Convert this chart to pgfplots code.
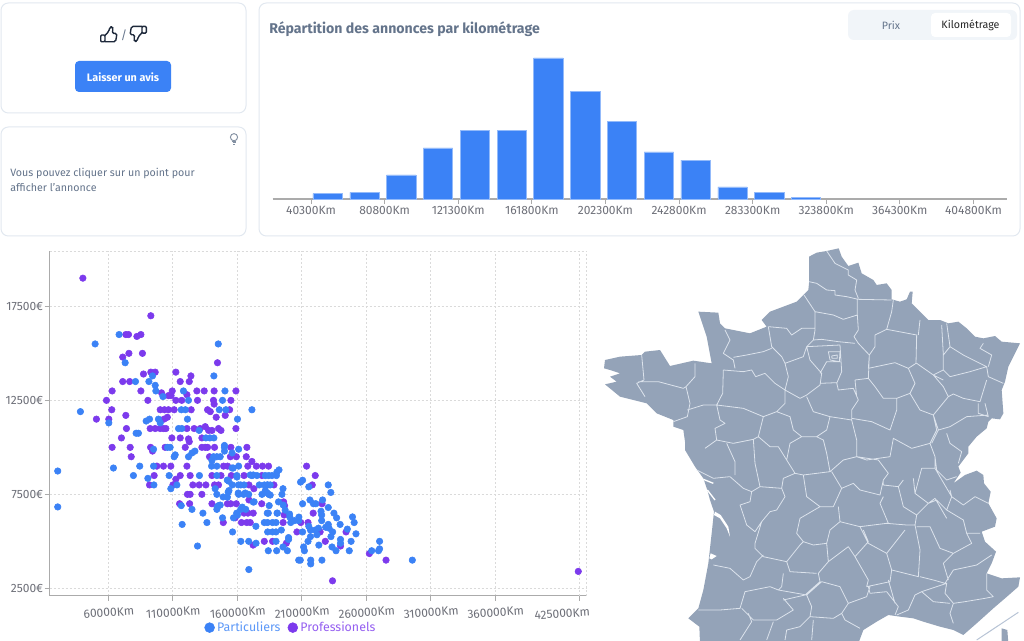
\documentclass[border=0pt]{standalone}
\usepackage{fontspec}
\setmainfont{Fira Sans}
\usepackage{pgfplots}
\usepackage{pgfplotstable}
\pgfplotsset{compat=1.18}
\definecolor{cblue}{HTML}{3B82F6}
\definecolor{cpurple}{HTML}{7C3AED}
\definecolor{slatefive}{HTML}{64748B}
\definecolor{slateborder}{HTML}{E2E8F0}
\definecolor{toggle}{HTML}{F1F5F9}
\definecolor{mapfill}{HTML}{94A3B8}
\definecolor{mapline}{HTML}{DCE3EC}
\definecolor{mapbox}{HTML}{B8C4D6}
\definecolor{ticktext}{HTML}{6E7079}
\definecolor{axisgray}{HTML}{ABABAB}
\definecolor{gridc}{HTML}{DADADA}
\definecolor{lblue}{HTML}{5C98F8}
\definecolor{lpurple}{HTML}{955FF1}
\definecolor{icon}{HTML}{1E293B}
\newcommand{\fs}[1]{\fontsize{#1}{#1}\selectfont}
\pgfplotstableread{
km eur
49400 4
69700 5
89900 18
110200 38
130400 51
150700 51
170900 105
191200 80
211400 58
231700 35
251900 29
272200 9
292400 5
312700 1
}\histdata
\pgfplotstableread{
km eur
40200 19000
92900 17000
73500 16000
75600 16000
82100 15900
85200 16000
75900 15000
71100 14800
86400 15000
144600 14500
87200 13900
92900 14000
96300 14000
112300 14000
115700 13500
124000 13800
122700 13500
71100 13500
76500 13500
62900 13000
85200 13000
101200 12900
109500 13000
128600 13000
134300 13000
142000 13000
158900 13000
106500 12750
108600 12750
120900 12800
58500 12500
90600 12500
112300 12500
116900 12500
129100 12500
141500 12500
155000 12500
62600 12000
100200 12000
103500 12000
106600 12000
111000 12000
124200 12000
136900 12000
139000 11900
142000 12300
154000 12000
50700 11500
60300 11500
73500 11700
103100 11500
105700 11600
143600 11600
150600 11700
74000 11000
92400 11000
96300 11000
100200 11000
102700 11000
104600 11000
120900 11000
126500 11000
131200 11000
135100 11100
137700 10900
140300 10900
145400 11000
147300 10900
158900 11000
70100 10500
109200 10500
115700 10500
122100 10450
132500 10500
62900 10000
76900 10000
92700 10000
104000 10000
119600 10000
132500 10000
135100 10000
136900 10000
142300 10000
155000 10000
167400 10000
122700 10300
94200 9800
77700 9500
138400 9500
154600 9500
159200 9500
166900 9500
97600 9000
102700 9000
108400 9000
120900 9000
171300 9250
174700 9000
179500 9000
184200 9000
149300 9000
152400 9000
168100 9000
95500 8500
115700 8500
123400 8500
140300 8500
147300 8500
155300 8500
165200 8500
179100 8500
91900 8000
110000 8000
125500 8000
130400 8000
135600 8000
142300 8000
145400 8000
169000 8000
188400 8000
112300 8300
172800 7800
121300 7500
123400 7500
132500 7500
169000 7200
140300 7000
115200 7000
123000 7000
152300 7000
154900 7000
159200 7000
178900 7000
196600 6900
165200 6500
168200 6500
172300 6500
196300 6400
158300 6250
149100 6000
163200 6000
167300 6000
170000 6000
195500 6000
206200 5500
172200 4800
180900 5000
187300 5000
198000 4900
195900 7100
213700 9000
220400 8500
218100 8000
225700 7000
218800 6500
209200 6000
214800 6000
224200 5500
228200 5000
244300 5500
240000 4750
233800 2900
262400 4350
275300 4000
424400 3400
}\prodata
\pgfplotstableread{
km eur
68300 16000
49700 15500
145200 15500
73000 14500
94200 13800
141800 13800
81000 13500
91400 13500
96300 13300
96800 13000
118200 13000
150400 13000
102300 12700
122100 12500
148500 12500
38300 11900
116500 12000
119700 12000
146000 12000
151100 12000
171300 12000
60300 11300
89300 11400
91900 11500
98800 11500
100200 11300
121300 11500
160100 11500
81500 10750
83300 10750
114400 11000
116900 11000
130400 10900
135600 10500
138700 10500
141800 10500
95000 9900
105800 10000
111800 9600
111000 9500
107900 10000
150000 10100
150000 10000
150000 9800
161000 9900
122100 9500
124800 9700
127100 9800
141500 9500
144100 9500
146700 9500
155900 9700
140300 9300
20700 8740
20700 6830
63900 8900
84300 9000
95000 9000
140000 9000
144100 9000
155900 8900
161000 9000
192300 8800
79400 8500
107100 8500
130600 8500
144100 8500
159600 8500
171300 8500
175200 8500
181700 8500
184300 8500
186900 8500
190300 8500
90600 8350
95300 8000
113100 8000
153300 8200
162600 8000
165200 8000
177000 8000
180900 8000
183500 8000
108400 7800
142800 7800
153500 7700
195400 7800
181700 7700
144100 7500
161000 7500
164900 7500
168800 7500
152300 7350
179100 7500
184300 7500
194600 7500
173000 7100
191900 7100
184700 6900
145400 6900
144100 6700
116500 6900
124800 6700
162600 6700
166500 6700
133300 6500
160100 6400
184000 6500
191000 6500
200500 6450
204100 6100
207500 6100
148500 6250
157000 6250
136400 6000
180900 6000
183400 6000
187300 6000
190000 6000
201400 6000
117200 5900
174400 5800
156300 5500
183500 5500
187300 5500
190000 5500
194100 5600
199700 5200
199700 5100
162700 5000
168800 5000
174500 4900
190000 5000
129100 4750
195400 4700
184000 4500
190500 4500
198800 4500
207600 4000
168900 3500
210600 8250
209000 8150
230500 8000
215400 7900
232500 7600
210600 7000
216300 7200
219000 7000
220900 7000
226100 7200
230500 6800
224900 6600
225400 6400
225400 6100
234900 6500
237000 6250
239700 5900
249300 6300
250600 6000
215400 5800
216700 5600
210600 5500
222900 5700
220400 5600
221700 5350
230500 5900
228500 5750
231100 5700
233900 5500
232600 5250
245300 5650
252000 5400
240000 5100
240000 4900
248200 5000
223200 4800
233400 4700
236500 4500
246800 4500
211400 4700
212000 4500
216700 5250
214800 5000
208800 4000
216900 4000
216900 3800
225600 4000
270300 5000
270300 4600
269500 4500
264200 4500
295700 4000
156800 8900
159700 8420
170000 8530
172300 8530
190700 8690
152200 8260
156100 8000
160800 8000
183200 8000
185500 8000
149000 7360
152900 7620
160700 7570
166100 7570
172300 7090
183200 7570
185500 7460
144400 6820
146700 6930
163800 6820
159500 6500
183200 6500
190800 6500
195600 6930
197100 6660
200700 6290
207700 6290
}\partdata
\begin{document}
\begin{tikzpicture}
\path[use as bounding box,fill=white] (0pt,0pt) rectangle (768pt,480pt);
% cards, in pixels from the top-left corner
\begin{scope}[x=0.75pt,y=-0.75pt,shift={(0pt,480pt)}]
\draw[slateborder,fill=white,line width=0.75pt,rounded corners=5.5pt] (1,3) rectangle (246,113);
\draw[slateborder,fill=white,line width=0.75pt,rounded corners=5.5pt] (1,127) rectangle (246,236);
\draw[slateborder,fill=white,line width=0.75pt,rounded corners=5.5pt] (259,3) rectangle (1020,236);
% thumb up
\draw[icon,line width=1.05pt,line join=round,line cap=round,rounded corners=0.8pt]
 (100.7,35) rectangle (105,41.8);
\draw[icon,line width=1.05pt,line join=round,line cap=round,rounded corners=1.2pt]
 (105,35.5)--(108.7,31.5)--(110,27)--(112.3,26.6)--(113.2,29)--(112,33.4)--(117,33.4)--(115.6,41.8)--(105,41.8);
% thumb down
\draw[icon,line width=1.05pt,line join=round,line cap=round,rounded corners=0.8pt]
 (146.3,33.2) rectangle (142,26.4);
\draw[icon,line width=1.05pt,line join=round,line cap=round,rounded corners=1.2pt]
 (142,32.7)--(138.3,36.7)--(137,41.2)--(134.7,41.6)--(133.8,39.2)--(135,34.8)--(130,34.8)--(131.4,26.4)--(142,26.4);
\node[font=\fs{9},text=slatefive] at (124,35) {/};
\fill[cblue,rounded corners=3pt] (75,61) rectangle (171,92);
\node[font=\bfseries\fs{8.1},text=white] at (123,77) {Laisser un avis};
% bulb
\draw[slatefive!80,line width=0.7pt,fill=white] (234,137.2) circle[radius=3.6];
\draw[slatefive!80,line width=0.7pt] (232.2,141)--(235.8,141) (232.5,142.8)--(235.5,142.8) (233.2,144.4)--(234.8,144.4);
\node[anchor=west,inner sep=0pt,font=\fs{8.0},text=slatefive] at (10,173) {Vous pouvez cliquer sur un point pour};
\node[anchor=west,inner sep=0pt,font=\fs{8.0},text=slatefive] at (10,188) {afficher l'annonce};
\node[anchor=west,inner sep=0pt,font=\bfseries\fs{10.6},text=slatefive] at (269,29) {Répartition des annonces par kilométrage};
\fill[toggle,rounded corners=4.5pt] (848,10) rectangle (1017,40);
\fill[white,rounded corners=3pt] (931,13) rectangle (1011,37);
\node[font=\fs{8},text=slatefive] at (891,25) {Prix};
\node[font=\fs{8},text=black!85] at (970.5,25) {Kilométrage};
\end{scope}
% map, traced in zoom coordinates
\begin{scope}[x=0.25pt,y=-0.25pt,shift={(450pt,300pt)}]
\clip (-20,0) rectangle (1296,1200);
\fill[mapfill] (627,50)--(650,38)--(680,33)--(716,25)--(725,50)--(745,78)--(775,68)--(785,100)--(820,120)--(830,135)--(860,130)--(875,150)--(875,178)--(900,185)--(920,178)--(930,155)--(938,155)--(935,190)--(960,215)--(985,240)--(1020,240)--(1045,250)--(1075,245)--(1100,265)--(1125,290)--(1150,295)--(1185,288)--(1205,305)--(1260,310)--(1245,340)--(1225,380)--(1215,425)--(1205,450)--(1210,520)--(1200,538)--(1175,535)--(1165,545)--(1160,565)--(1130,590)--(1105,620)--(1105,640)--(1075,680)--(1082,698)--(1060,730)--(1095,705)--(1130,692)--(1150,705)--(1152,730)--(1172,755)--(1165,790)--(1190,835)--(1185,860)--(1145,875)--(1155,905)--(1188,935)--(1175,970)--(1160,1000)--(1205,1015)--(1260,1012)--(1255,1040)--(1215,1075)--(1180,1105)--(1130,1150)--(1090,1185)--(1060,1170)--(1020,1160)--(970,1145)--(940,1135)--(900,1130)--(865,1125)--(830,1145)--(790,1170)--(775,1210)--(300,1210)--(298,1160)--(265,1135)--(295,1105)--(310,1050)--(325,970)--(335,880)--(342,815)--(330,780)--(322,750)--(310,715)--(285,680)--(255,630)--(255,605)--(250,570)--(220,560)--(220,540)--(170,520)--(140,490)--(60,470)--(15,433)--(50,425)--(30,410)--(60,400)--(30,390)--(12,385)--(15,360)--(60,350)--(125,345)--(135,335)--(180,330)--(210,378)--(280,362)--(335,370)--(320,290)--(295,215)--(355,218)--(360,250)--(375,265)--(450,280)--(500,260)--(485,240)--(510,215)--(590,185)--(625,150)--(627,130)--cycle;
\fill[mapfill] (1205,1165)--(1222,1170)--(1225,1210)--(1205,1210)--cycle;
\fill[white] (345,815)--(362,825)--(385,860)--(390,890)--(380,865)--(360,835)--(342,825)--cycle;
\fill[white] (332,940)--(350,948)--(335,958)--(328,955)--cycle;
\draw[white,line width=1pt] (310,718)--(340,730);
\draw[white,line width=1pt] (322,750)--(345,780);
\draw[mapbox,line width=0.75pt] (1255,1117)--(1130,1200);
\draw[mapline,line width=0.6pt,line join=round]
(680,33)--(705,70)--(745,90)--(745,105)--(770,120)--(765,150)--(775,175)
(627,125)--(650,130)--(680,150)--(705,152)--(705,165)--(740,170)--(775,178)--(875,180)
(612,165)--(645,215)--(700,225)--(730,238)--(772,225)
(772,178)--(772,225)--(775,270)--(762,290)--(775,310)--(808,345)
(645,215)--(645,270)--(640,300)--(665,298)--(715,305)--(765,310)
(880,180)--(875,215)--(860,268)--(825,285)--(825,320)--(808,345)--(805,415)
(505,260)--(560,265)--(575,285)--(605,265)--(645,265)
(505,260)--(515,320)--(545,350)--(555,370)--(610,350)--(620,320)--(640,300)
(375,270)--(390,300)--(370,340)--(400,360)--(405,385)
(400,352)--(440,345)--(490,335)--(515,325)
(370,390)--(430,395)--(455,390)--(467,410)--(495,400)--(525,430)--(555,450)--(565,410)--(555,370)
(370,390)--(368,460)--(350,495)
(285,370)--(285,410)--(258,440)--(270,490)--(262,530)--(220,545)
(125,345)--(132,420)--(110,430)--(135,470)
(115,425)--(175,425)--(250,445)--(258,440)
(262,510)--(310,495)--(350,495)--(430,505)--(490,530)
(350,495)--(360,540)--(375,550)--(345,565)--(350,600)
(315,625)--(350,600)--(400,610)--(460,598)
(380,610)--(405,665)--(405,705)
(290,690)--(340,715)--(390,710)--(430,745)--(455,755)
(460,598)--(465,670)--(480,740)--(455,755)--(450,785)--(420,795)--(440,855)--(465,875)
(475,590)--(510,620)--(535,620)--(560,660)--(585,700)--(550,715)--(545,745)--(480,740)
(490,530)--(475,590)--(460,598)
(555,450)--(555,490)--(530,515)--(490,530)
(530,515)--(570,530)--(580,570)--(605,590)--(570,610)--(560,660)
(555,450)--(600,475)--(620,465)--(660,435)--(665,400)--(630,360)--(620,320)
(660,430)--(710,428)--(715,450)--(760,445)--(775,480)--(755,510)--(755,540)--(690,530)--(640,515)--(620,470)
(690,530)--(680,570)--(650,590)--(605,590)
(755,540)--(770,600)--(770,650)--(730,660)--(690,695)--(680,640)--(670,600)--(650,590)
(585,700)--(610,705)--(690,695)
(610,705)--(620,770)--(660,800)--(600,835)--(590,880)--(610,905)
(545,745)--(555,770)--(530,810)--(510,815)--(485,845)--(465,875)
(695,695)--(725,745)--(700,800)--(660,800)
(725,745)--(760,730)--(780,750)--(840,765)--(850,720)--(865,700)--(835,660)--(770,650)
(770,650)--(800,660)--(835,655)--(870,650)--(880,595)--(935,625)--(990,610)--(1005,650)--(1005,685)--(965,685)--(945,760)--(985,790)--(1005,775)--(1040,835)
(755,535)--(815,545)--(870,570)--(890,510)--(890,475)--(930,460)--(960,510)--(1000,525)--(1010,570)--(990,610)
(765,420)--(805,415)--(825,440)--(850,475)--(890,475)
(805,385)--(885,368)--(925,385)--(945,430)--(930,460)
(765,420)--(770,470)
(808,345)--(805,385)
(860,268)--(950,285)--(948,370)--(925,385)
(950,370)--(1000,405)--(1030,420)
(955,285)--(960,240)
(1025,255)--(1030,345)
(1040,250)--(1050,320)--(1030,345)--(1030,390)--(1000,405)
(1050,320)--(1090,345)--(1160,380)--(1110,395)--(1050,410)--(1030,390)
(1160,380)--(1165,410)--(1210,430)
(1150,310)--(1140,325)--(1175,345)--(1165,380)
(1000,405)--(1030,440)--(1045,470)--(1060,462)--(1090,475)--(1140,485)--(1160,420)
(1135,490)--(1135,520)--(1165,530)--(1155,490)
(1045,470)--(1000,525)--(1015,570)--(1050,560)--(1100,530)--(1165,525)
(1015,570)--(995,610)
(1005,650)--(1010,690)--(1040,720)--(1070,710)
(1040,580)--(1050,610)--(1085,635)--(1075,670)
(1005,685)--(1055,770)--(1040,810)--(1090,840)--(1100,880)--(1140,880)
(1050,750)--(1055,770)--(1090,795)--(1125,770)--(1165,790)
(1040,810)--(1010,780)--(985,790)--(950,825)--(945,855)
(910,720)--(895,740)--(910,800)--(950,825)
(940,715)--(945,760)
(850,720)--(850,735)--(895,740)
(850,770)--(840,790)--(865,850)
(715,800)--(720,845)--(780,860)--(860,850)--(920,855)--(945,855)
(780,860)--(805,910)--(860,940)--(915,870)
(860,940)--(875,990)--(915,1000)--(955,1010)--(960,930)--(945,855)
(950,860)--(990,860)--(1020,925)--(1060,940)--(1115,910)--(1100,880)
(1060,940)--(1030,970)--(1045,1020)
(960,1010)--(1000,1020)--(1035,1030)--(1060,990)--(1130,975)--(1175,945)
(1160,1000)--(1160,1050)--(1180,1070)--(1155,1075)--(1095,1085)--(1060,1090)--(1050,1120)--(1060,1150)
(965,1055)--(1040,1030)--(1035,1060)--(1060,1090)
(965,1055)--(1000,1085)--(1050,1090)
(965,1055)--(945,1065)--(925,1110)--(890,1125)
(765,950)--(805,1020)--(800,1040)--(870,1025)--(875,990)
(865,1020)--(885,1090)
(805,1040)--(810,1060)--(860,1055)--(895,1100)--(885,1125)
(685,965)--(745,920)--(765,950)--(805,905)--(790,870)
(720,845)--(690,870)--(680,910)--(685,965)--(655,1000)--(660,1025)--(615,1065)--(550,1080)
(485,845)--(465,910)--(465,925)--(490,950)--(560,965)--(600,915)--(610,905)--(640,915)--(680,910)
(560,965)--(570,995)--(650,1000)
(550,1000)--(545,1040)--(535,1050)--(620,1065)--(665,1025)--(720,1040)--(745,1090)--(725,1120)--(735,1140)--(780,1165)
(745,1090)--(800,1070)--(810,1040)
(620,1065)--(635,1100)--(630,1130)--(700,1135)--(725,1120)
(340,975)--(390,985)--(430,1020)--(450,1010)--(470,965)--(490,945)
(295,1110)--(360,1110)--(420,1105)--(435,1055)--(510,1040)--(535,1050)
(425,1105)--(450,1130)--(460,1140)--(530,1140)--(580,1110)--(550,1075)
(445,1120)--(455,1145)--(420,1200)
(520,1145)--(500,1200)
(630,1130)--(600,1160)--(560,1170)--(555,1200)
(640,1140)--(635,1200)
(620,320)--(720,315)--(725,395)--(710,430)
(660,400)--(680,365)--(720,365)
(685,335)--(720,335)--(718,365)--(690,360)--cycle
(695,348)--(712,345)--(712,355)--(696,355)--cycle;
\end{scope}
% histogram
\begin{axis}[at={(204.4pt,330.75pt)},anchor=origin,scale only axis,
 width=550.9pt,height=105.75pt,xmin=19113,xmax=423300,ymin=0,ymax=105,
 axis x line*=bottom,hide y axis,scaled x ticks=false,
 x axis line style={-,axisgray,line width=1.1pt},
 xtick={40300,80800,121300,161800,202300,242800,283300,323800,364300,404800},
 xticklabels={40300Km,80800Km,121300Km,161800Km,202300Km,242800Km,283300Km,323800Km,364300Km,404800Km},
 tick align=outside,major tick length=3.75pt,
 x tick style={axisgray,line width=0.75pt},
 xticklabel style={font=\fs{9},text=ticktext,inner sep=1pt,yshift=-0.8pt},
 clip=false]
\addplot[ybar,bar width=22pt,bar shift=0pt,fill=cblue,draw=cblue!55!white,line width=0.4pt] table[x=km,y=eur] {\histdata};
\end{axis}
% scatter
\begin{axis}[at={(37.3pt,33.2pt)},anchor=origin,scale only axis,
 width=402.75pt,height=258.5pt,xmin=14500,xmax=430960,ymin=2106,ymax=20441,
 axis x line*=bottom,axis y line*=left,scaled x ticks=false,scaled y ticks=false,
 axis line style={-,axisgray,line width=1.1pt},
 xtick={60000,110000,160000,210000,260000,310000,360000},
 xticklabels={60000Km,110000Km,160000Km,210000Km,260000Km,310000Km,360000Km},
 extra x ticks={425000},extra x tick labels={425000Km},
 extra x tick style={xticklabel style={xshift=-13pt},grid=major},
 ytick={2500,7500,12500,17500},
 yticklabels={2500€,7500€,12500€,17500€},
 tick align=outside,major tick length=3.75pt,
 tick style={axisgray,line width=0.75pt},
 xticklabel style={font=\fs{9},text=ticktext,rotate=4,inner sep=1pt,yshift=-4.5pt},
 yticklabel style={font=\fs{9},text=ticktext,inner sep=1pt},
 grid=major,grid style={gridc,line width=0.75pt,dash pattern=on 1.5pt off 1.5pt},
 legend columns=2,
 legend style={at={(0.45,-0.0925)},anchor=center,draw=none,fill=none,font=\fs{9.3},inner sep=0pt,
  /tikz/every even column/.append style={column sep=3.5pt}},
 legend cell align=left,clip=false]
\draw[gridc,line width=0.75pt,dash pattern=on 1.5pt off 1.5pt] (rel axis cs:0,1)--(rel axis cs:1,1)--(rel axis cs:1,0);
\addplot[forget plot,only marks,color=cpurple,mark=*,mark size=2.45pt,mark options={solid,draw=cpurple,fill=cpurple}] table[x=km,y=eur] {\prodata};
\addplot[forget plot,only marks,color=cblue,mark=*,mark size=2.45pt,mark options={solid,draw=cblue,fill=cblue}] table[x=km,y=eur] {\partdata};
\addlegendimage{only marks,color=cblue,mark=*,mark size=3.7pt,mark options={solid,draw=cblue,fill=cblue}}
\addlegendentry{\textcolor{lblue}{Particuliers}}
\addlegendimage{only marks,color=cpurple,mark=*,mark size=3.7pt,mark options={solid,draw=cpurple,fill=cpurple}}
\addlegendentry{\textcolor{lpurple}{Professionels}}
\end{axis}
\end{tikzpicture}
\end{document}
